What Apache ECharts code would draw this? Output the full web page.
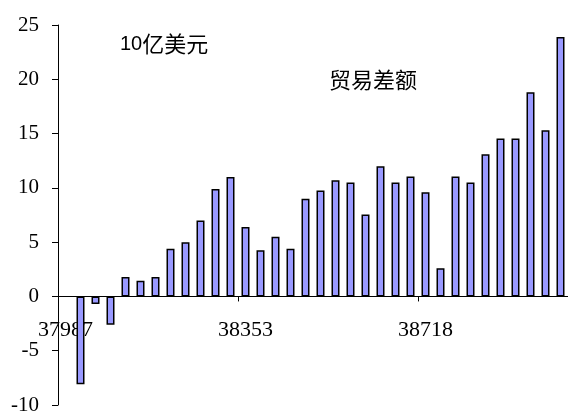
<!DOCTYPE html>
<html>
<head>
<meta charset="utf-8">
<script src="https://cdn.jsdelivr.net/npm/echarts@6/dist/echarts.min.js"></script>
<style>
  html, body { margin: 0; padding: 0; background: #fff; }
  #chart { width: 568px; height: 414px; }
</style>
</head>
<body>
<div id="chart"></div>
<script>
// monthly trade balance, first slot (37987) has no bar
const categories = Array.from({ length: 34 }, (_, i) => String(i))
const balance = [
  null,
  -8.1, -0.7, -2.6, 1.8, 1.45, 1.8, 4.4, 5.0, 7.0, 9.9, 11.0,
  6.4, 4.25, 5.5, 4.4, 9.0, 9.75, 10.7, 10.5, 7.55, 12.0, 10.5,
  11.05, 9.6, 2.6, 11.05, 10.5, 13.1, 14.55, 14.55, 18.8, 15.3, 23.9
]
const labelIndex = [0, 12, 24]
const labelText = ['37987', '38353', '38718']

const chart = echarts.init(document.getElementById('chart'))
chart.setOption({
  animation: false,
  backgroundColor: '#fff',
  grid: { left: 58, right: 0, top: 25, bottom: 9, outerBoundsMode: 'none', containLabel: false },
  xAxis: {
    type: 'category',
    data: categories,
    boundaryGap: true,
    axisLine: { onZero: true, lineStyle: { color: '#000', width: 1 } },
    axisTick: {
      show: true,
      length: 5,
      inside: false,
      interval: (i) => labelIndex.includes(i),
      lineStyle: { color: '#000' }
    },
    axisLabel: {
      interval: (i) => labelIndex.includes(i),
      formatter: (v, i) => {
        const k = labelIndex.indexOf(i)
        return k >= 0 ? labelText[k] : ''
      },
      // v6 keeps the labels at the grid edge, pull them up under the zero line
      margin: -86,
      color: '#000',
      fontFamily: 'Liberation Serif',
      fontSize: 22
    },
    splitLine: { show: false }
  },
  yAxis: {
    type: 'value',
    min: -10,
    max: 25,
    interval: 5,
    axisLine: { show: true, lineStyle: { color: '#000', width: 1 } },
    axisTick: { show: true, length: 6, lineStyle: { color: '#000' } },
    axisLabel: {
      margin: 19,
      color: '#000',
      fontFamily: 'Liberation Serif',
      fontSize: 21
    },
    splitLine: { show: false }
  },
  graphic: [
    {
      type: 'text',
      left: 120,
      top: 33,
      style: {
        text: '{a|10}{b|亿美元}',
        rich: {
          a: { fontFamily: 'Liberation Sans', fontSize: 20, fill: '#000' },
          b: { fontFamily: 'Noto Sans CJK SC', fontSize: 22, fill: '#000' }
        }
      }
    },
    {
      type: 'text',
      left: 329,
      top: 69,
      style: {
        text: '贸易差额',
        fontFamily: 'Noto Sans CJK SC',
        fontSize: 22,
        fill: '#000'
      }
    }
  ],
  series: [
    {
      type: 'bar',
      data: balance,
      barWidth: 8,
      itemStyle: { color: '#9999ff', borderColor: '#000', borderWidth: 1.5 }
    }
  ]
})
</script>
</body>
</html>
